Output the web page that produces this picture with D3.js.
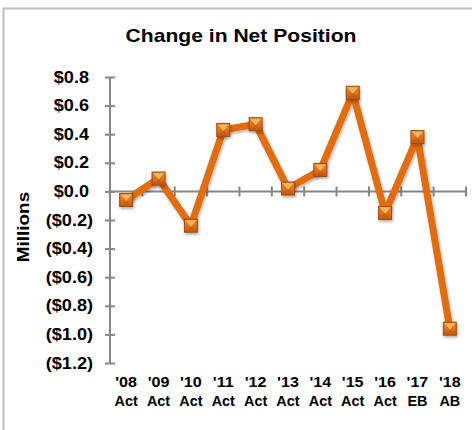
<!DOCTYPE html>
<html><head><meta charset="utf-8">
<script src="https://cdn.jsdelivr.net/npm/d3@7"></script>
<style>body{margin:0;background:#fff}svg{display:block;font-family:"Liberation Sans",Arial,sans-serif}</style>
</head><body>
<svg id="c" width="472" height="430"></svg>
<script>
const years = ["'08","'09","'10","'11","'12","'13","'14","'15","'16","'17","'18"];
const kinds = ["Act","Act","Act","Act","Act","Act","Act","Act","Act","EB","AB"];
const values = [-0.06, 0.09, -0.24, 0.43, 0.47, 0.02, 0.15, 0.69, -0.15, 0.38, -0.96];
const yTicks = [0.8, 0.6, 0.4, 0.2, 0.0, -0.2, -0.4, -0.6, -0.8, -1.0, -1.2];
const title = "Change in Net Position";
const yTitle = "Millions";

function stretch(sel, k) {
  sel.each(function () {
    const L = this.getComputedTextLength();
    this.setAttribute("textLength", L * k);
    this.setAttribute("lengthAdjust", "spacingAndGlyphs");
  });
}

const svg = d3.select("#c");
const defs = svg.append("defs");
const f = defs.append("filter").attr("id","sh").attr("x","-50%").attr("y","-50%").attr("width","200%").attr("height","200%");
f.append("feDropShadow").attr("dx",1).attr("dy",2).attr("stdDeviation",1.5).attr("flood-color","#000").attr("flood-opacity",0.3);
const g1 = defs.append("linearGradient").attr("id","mg").attr("x1",0).attr("y1",0).attr("x2",0).attr("y2",1);
g1.append("stop").attr("offset","0").attr("stop-color","#f08a2a");
g1.append("stop").attr("offset","1").attr("stop-color","#c85a08");

// frame
svg.append("path").attr("d","M3.5,430 V8.5 H472").attr("fill","none").attr("stroke","#bfbfbf").attr("stroke-width",2);

const x = d3.scaleBand().domain(d3.range(years.length)).range([110,466]);
const y = d3.scaleLinear().domain([-1.2,0.8]).range([363,77]);

// title
svg.append("text").attr("x",241).attr("y",42).attr("text-anchor","middle")
  .attr("font-size",19).attr("font-weight","bold").text(title).call(stretch, 1.11);

// y title
svg.append("text").attr("transform","translate(29,227) rotate(-90)").attr("text-anchor","middle")
  .attr("font-size",16).attr("font-weight","bold").text(yTitle).call(stretch, 1.18);

// y axis
const fmt = v => { const s = "$" + Math.abs(v).toFixed(1); return v < -1e-9 ? "(" + s + ")" : s; };
const ya = svg.append("g").attr("transform","translate(110,0)")
  .call(d3.axisLeft(y).tickValues(yTicks).tickFormat(fmt).tickSize(5).tickPadding(17));
ya.select(".domain").remove();
ya.selectAll(".tick line").attr("x1",-5).attr("x2",5).attr("stroke","#868686").attr("stroke-width",2);
ya.selectAll(".tick text").attr("font-size",16).attr("font-weight","bold").attr("fill","#000")
  .attr("font-family","'Liberation Sans',Arial,sans-serif")
  .attr("x", d => d < -1e-9 ? -17 : -21).call(stretch, 1.13);
svg.append("line").attr("x1",110).attr("x2",110).attr("y1",y(0.8)).attr("y2",y(-1.2))
  .attr("stroke","#868686").attr("stroke-width",2);

// x axis at zero
const y0 = y(0);
svg.append("line").attr("x1",110).attr("x2",466).attr("y1",y0).attr("y2",y0).attr("stroke","#868686").attr("stroke-width",2);
const bounds = d3.range(years.length+1).map(i => i < years.length ? x(i) : x.range()[1]);
svg.append("g").selectAll("line").data(bounds.slice(1)).join("line")
  .attr("x1",d=>d).attr("x2",d=>d).attr("y1",y0-5).attr("y2",y0+5).attr("stroke","#868686").attr("stroke-width",2);

// x labels
const xl = svg.append("g").attr("font-size",14).attr("font-weight","bold").attr("text-anchor","middle");
xl.selectAll("text.a").data(years).join("text").attr("class","a")
  .attr("x",(d,i)=>x(i)+x.bandwidth()/2).attr("y",387).text(d=>d).call(stretch, 1.15);
xl.selectAll("text.b").data(kinds).join("text").attr("class","b")
  .attr("x",(d,i)=>x(i)+x.bandwidth()/2).attr("y",406).text(d=>d).call(stretch, 1.03);

// line
const line = d3.line().x((d,i)=>x(i)+x.bandwidth()/2).y(d=>y(d));
svg.append("path").datum(values).attr("d",line).attr("fill","none")
  .attr("stroke","#e46c0a").attr("stroke-width",7).attr("stroke-linejoin","round").attr("filter","url(#sh)");

// markers
const s = 13;
const m = svg.append("g").selectAll("g").data(values).join("g")
  .attr("transform",(d,i)=>`translate(${x(i)+x.bandwidth()/2},${y(d)})`).attr("filter","url(#sh)");
m.append("rect").attr("x",-s/2).attr("y",-s/2).attr("width",s).attr("height",s)
  .attr("fill","url(#mg)").attr("stroke","#9a4a0a").attr("stroke-width",1);
m.append("path").attr("d",`M${-s/2+1},${-s/2+1} L${s/2-1},${-s/2+1} L0,1 Z`).attr("fill","#f8b35a");
m.append("path").attr("d",`M${-s/2+1},${s/2-1} L${s/2-1},${s/2-1} L0,1 Z`).attr("fill","#c2580a").attr("opacity",0.6);
</script>
</body></html>
